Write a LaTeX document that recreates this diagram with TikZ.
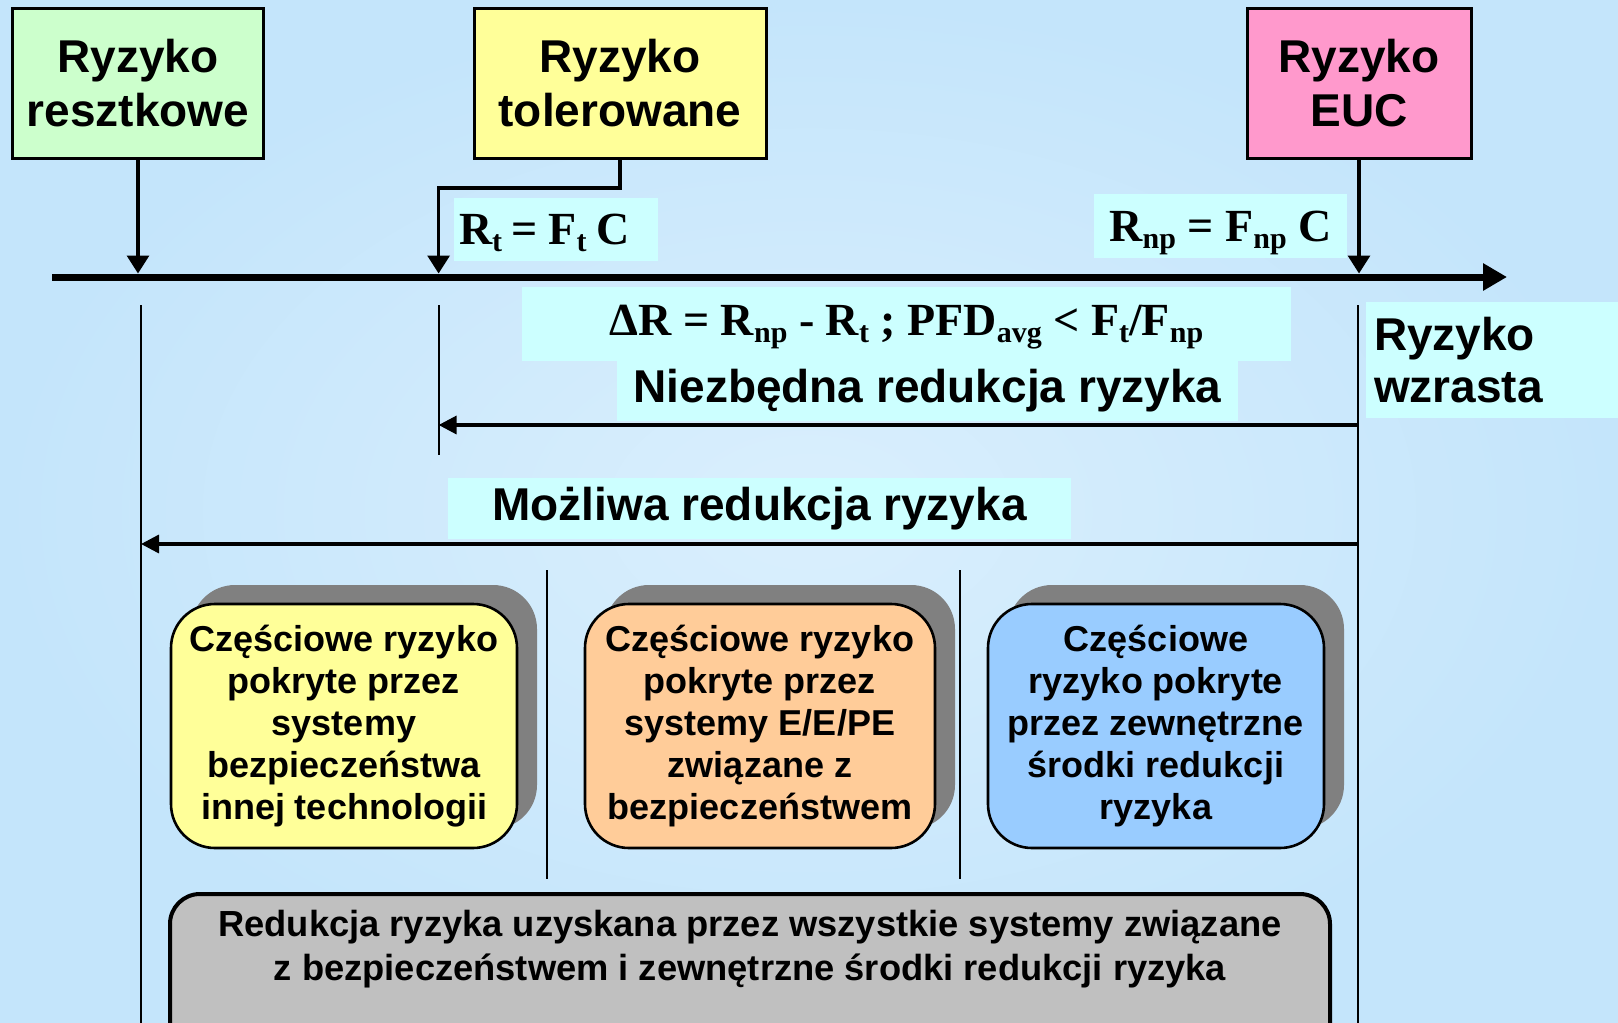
\documentclass[tikz,border=0pt]{standalone}
\usepackage{fontspec}
\setmainfont{Liberation Sans}
\newfontfamily\timesfam{Liberation Serif}
\usetikzlibrary{arrows.meta,shadows}

\definecolor{bgouter}{RGB}{196,229,251}
\definecolor{bginner}{RGB}{218,239,253}
\definecolor{labelcyan}{RGB}{204,255,255}
\definecolor{resgreen}{RGB}{204,255,204}
\definecolor{tolyellow}{RGB}{255,255,153}
\definecolor{eucpink}{RGB}{255,153,204}
\definecolor{partorange}{RGB}{255,204,153}
\definecolor{partblue}{RGB}{153,204,255}
\definecolor{shadowgray}{RGB}{128,128,128}
\definecolor{totalgray}{RGB}{192,192,192}

% lowered subscript for the formulas
\newcommand\lsub[1]{\raisebox{-3.5pt}{\fontsize{15}{15}\selectfont #1}}

\begin{document}
\begin{tikzpicture}[x=0.5pt,y=-0.5pt,
  riskbox/.style={draw=black, line width=1.5pt, align=center,
    font=\bfseries\fontsize{23}{27}\selectfont, minimum height=75pt, inner sep=0pt},
  cyanlabel/.style={fill=labelcyan, inner sep=0pt},
  formula/.style={font=\timesfam\bfseries\fontsize{23}{26}\selectfont,
    text height=19pt, text depth=3.8pt},
  bigtext/.style={font=\bfseries\fontsize{23}{26}\selectfont},
  partbox/.style={draw=black, line width=1.3pt, rounded corners=22pt, align=center,
    font=\bfseries\fontsize{18}{21}\selectfont, minimum height=122pt, inner sep=0pt,
    drop shadow={shadow xshift=10pt, shadow yshift=9.5pt, fill=shadowgray, opacity=1}},
  conn/.style={line width=1.6pt, -{Triangle[length=9pt,width=11pt]}},
  span/.style={line width=1.7pt, -{Triangle[length=9pt,width=9pt]}},
  guide/.style={line width=1.1pt}]

\useasboundingbox (0,0) rectangle (1618,1023);
\clip (0,0) rectangle (1618,1023);

% background
\fill[bgouter] (0,0) rectangle (1618,1023);
\shade[inner color=bginner, outer color=bgouter] (0,0) rectangle (1618,1023);

% risk levels
\node[riskbox, fill=resgreen, minimum width=125.5pt] (res) at (138,83) {Ryzyko\\resztkowe};
\node[riskbox, fill=tolyellow, minimum width=146pt] (tol) at (620,83) {Ryzyko\\tolerowane};
\node[riskbox, fill=eucpink, minimum width=112pt] (euc) at (1359,83) {Ryzyko\\EUC};

% risk axis
\coordinate (axL) at (52,277);
\coordinate (axR) at (1507,277);
\draw[line width=3.5pt, -{Triangle[length=12pt,width=13pt]}] (axL) -- (axR);

% marks on the axis
\coordinate (axTop) at (0,273.5);
\coordinate (tolMark) at (438.6,273.5);
\coordinate (tolBend) at (0,188);
\draw[conn] (res.south) -- (res.south |- axTop);
\draw[conn] (tol.south) |- (tolBend -| tolMark) -- (tolMark);
\draw[conn] (euc.south) -- (euc.south |- axTop);

% formulas
\node[cyanlabel, minimum width=102pt, minimum height=31.5pt, text width=97pt, align=left,
  inner xsep=2.5pt, formula] (rt) at (556,229.5)
  {R\lsub{t}\hspace{4.5pt}=\hspace{5.5pt}F\lsub{t}\hspace{5pt}C};
\node[cyanlabel, minimum width=126.5pt, minimum height=32pt, formula] (rnp) at (1220.5,226)
  {R\lsub{np} = F\lsub{np} C};
\node[cyanlabel, minimum width=384.5pt, minimum height=37pt, formula, text depth=7.5pt]
  (dr) at (906.5,324)
  {ΔR = R\lsub{np} - R\lsub{t} ; PFD\lsub{avg} < F\lsub{t}/F\lsub{np}};

% guide lines below the axis
\coordinate (resTop) at (141,305);
\coordinate (resBot) at (141,1023);
\coordinate (tolTop) at (438.6,305);
\coordinate (tolBot) at (438.6,455);
\coordinate (eucTop) at (1358,305);
\coordinate (eucBot) at (1358,1023);
\draw[guide] (resTop) -- (resBot);
\draw[guide] (tolTop) -- (tolBot);
\draw[guide] (eucTop) -- (eucBot);

% risk increases
\node[cyanlabel, minimum width=124pt, minimum height=58pt, text width=120pt, align=left,
  inner xsep=4pt, bigtext] (wzr) at (1494,360) {Ryzyko\\wzrasta};

% necessary reduction
\node[cyanlabel, minimum width=310.5pt, minimum height=30pt, bigtext] (nied) at (927.5,391)
  {Niezbędna redukcja ryzyka};
\coordinate (niedR) at (1358,425);
\coordinate (niedL) at (438.6,425);
\draw[span] (niedR) -- (niedL);

% possible reduction
\node[cyanlabel, minimum width=311.5pt, minimum height=30.5pt, bigtext] (mozl) at (759.5,508.5)
  {Możliwa redukcja ryzyka};
\coordinate (mozlR) at (1358,544);
\coordinate (mozlL) at (141,544);
\draw[span] (mozlR) -- (mozlL);

% separators between partial reductions
\coordinate (sepAtop) at (547,570);
\coordinate (sepAbot) at (547,879);
\coordinate (sepBtop) at (960,570);
\coordinate (sepBbot) at (960,879);
\draw[guide] (sepAtop) -- (sepAbot);
\draw[guide] (sepBtop) -- (sepBbot);

% partial reductions
\node[partbox, fill=tolyellow, minimum width=173pt] (other) at (344,726)
  {Częściowe ryzyko\\pokryte przez\\systemy\\bezpieczeństwa\\innej technologii};
\node[partbox, fill=partorange, minimum width=175pt] (eepe) at (760,726)
  {Częściowe ryzyko\\pokryte przez\\systemy E/E/PE\\związane z\\bezpieczeństwem};
\node[partbox, fill=partblue, minimum width=168pt] (ext) at (1156,726)
  {Częściowe\\ryzyko pokryte\\przez zewnętrzne\\środki redukcji\\ryzyka};

% total reduction
\node[draw=black, line width=2pt, fill=totalgray, rounded corners=15pt,
  minimum width=580pt, minimum height=90pt, inner sep=0pt] (total) at (750,984) {};
\node[align=center, font=\bfseries\fontsize{18.15}{22}\selectfont] (totaltxt) at (750,949)
  {Redukcja ryzyka uzyskana przez wszystkie systemy związane\\
   z bezpieczeństwem i zewnętrzne środki redukcji ryzyka};
\end{tikzpicture}
\end{document}
